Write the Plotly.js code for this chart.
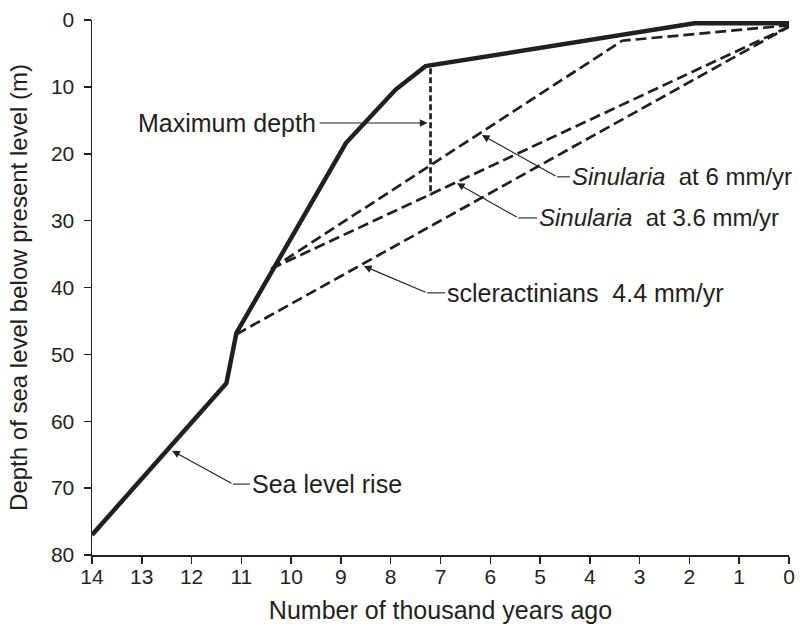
<!DOCTYPE html>
<html>
<head>
<meta charset="utf-8">
<script src="https://cdn.plot.ly/plotly-3.0.1.min.js"></script>
<style>html,body{margin:0;padding:0;background:#fff;}#chart{width:800px;height:626px;}</style>
</head>
<body>
<div id="chart"></div>
<script>
// ---- data (thousand years ago, depth below present level in m) ----
var seaLevelX = [14, 11.3, 11.1, 8.9, 7.9, 7.3, 1.9, 0];
var seaLevelY = [77, 54.3, 46.8, 18.4, 10.4, 6.9, 0.5, 0.5];

var sin6X = [10.4, 3.35, 0];
var sin6Y = [37.2, 3.1, 0.8];

var sin36X = [10.4, 0];
var sin36Y = [37.2, 1.0];

var sclerX = [11.1, 0];
var sclerY = [47.0, 1.0];

var maxDepthX = [7.2, 7.2];
var maxDepthY = [7.2, 26.2];

var xTicks = [14, 13, 12, 11, 10, 9, 8, 7, 6, 5, 4, 3, 2, 1, 0];
var yTicks = [0, 10, 20, 30, 40, 50, 60, 70, 80];

var labelTexts = [
  'Maximum depth',
  '<i>Sinularia</i>  at 6 mm/yr',
  '<i>Sinularia</i>  at 3.6 mm/yr',
  'scleractinians\u00a0 4.4 mm/yr',
  'Sea level rise'
];
var labelSizes = [25, 24, 24, 25, 25];

var INK = '#231f20';
var FONT = '"Liberation Sans", Arial, Helvetica, sans-serif';

var traces = [
  {x: seaLevelX, y: seaLevelY, mode: 'lines', line: {color: INK, width: 4.5}, name: 'Sea level rise'},
  {x: sin6X, y: sin6Y, mode: 'lines', line: {color: INK, width: 2.7, dash: '11px,5px'}, name: 'Sinularia 6'},
  {x: sin36X, y: sin36Y, mode: 'lines', line: {color: INK, width: 2.7, dash: '11px,5px'}, name: 'Sinularia 3.6'},
  {x: sclerX, y: sclerY, mode: 'lines', line: {color: INK, width: 2.7, dash: '11px,5px'}, name: 'scleractinians'},
  {x: maxDepthX, y: maxDepthY, mode: 'lines', line: {color: INK, width: 2.7, dash: '6px,3px'}, name: 'Maximum depth'}
];

// label placement: [textX, textY, anchor, kinkX, kinkY, headX, headY]
var place = [
  [9.46, 15.4, 'right', 9.46, 15.4, 7.26, 15.4],
  [4.40, 23.45, 'left', 4.66, 23.45, 6.17, 17.2],
  [5.06, 29.6, 'left', 5.44, 29.6, 6.67, 24.4],
  [6.91, 40.8, 'left', 7.27, 40.8, 8.54, 36.8],
  [10.83, 69.4, 'left', 11.17, 69.4, 12.39, 64.4]
];

var annotations = [];
var shapes = [];
place.forEach(function (p, i) {
  annotations.push({
    x: p[0], y: p[1], xref: 'x', yref: 'y', text: labelTexts[i], showarrow: false,
    xanchor: p[2], yanchor: 'middle', font: {family: FONT, size: labelSizes[i], color: INK}
  });
  annotations.push({
    x: p[5], y: p[6], xref: 'x', yref: 'y', ax: p[3], ay: p[4], axref: 'x', ayref: 'y',
    text: '', showarrow: true, arrowhead: 2, arrowsize: 1.4, arrowwidth: 1.1, arrowcolor: INK
  });
  if (p[3] !== p[0]) {
    shapes.push({type: 'line', xref: 'x', yref: 'y', x0: p[3], y0: p[4], x1: p[0], y1: p[1],
      line: {color: INK, width: 1.1}});
  }
});

var layout = {
  width: 800, height: 626,
  margin: {l: 92, r: 11, t: 20, b: 71},
  paper_bgcolor: '#ffffff', plot_bgcolor: '#ffffff',
  showlegend: false,
  font: {family: FONT, color: INK},
  xaxis: {
    range: [14, 0], tickvals: xTicks, ticktext: xTicks.map(String),
    ticks: 'outside', ticklen: 7, tickwidth: 1.5, tickcolor: INK,
    showline: true, linewidth: 2.2, linecolor: INK, showgrid: false, zeroline: false,
    tickfont: {family: FONT, size: 21, color: INK}, ticklabelstandoff: -5,
    title: {text: 'Number of thousand years ago', font: {family: FONT, size: 25, color: INK}, standoff: 14}
  },
  yaxis: {
    range: [80, 0], tickvals: yTicks, ticktext: yTicks.map(String),
    ticks: 'outside', ticklen: 7, tickwidth: 1.5, tickcolor: INK,
    showline: true, linewidth: 1.5, linecolor: INK, showgrid: false, zeroline: false,
    tickfont: {family: FONT, size: 21, color: INK}, ticklabelstandoff: 5,
    title: {text: 'Depth of sea level below present level (m)', font: {family: FONT, size: 24, color: INK}, standoff: 16}
  },
  annotations: annotations,
  shapes: shapes
};

Plotly.newPlot('chart', traces, layout, {displayModeBar: false, staticPlot: true});
</script>
</body>
</html>
